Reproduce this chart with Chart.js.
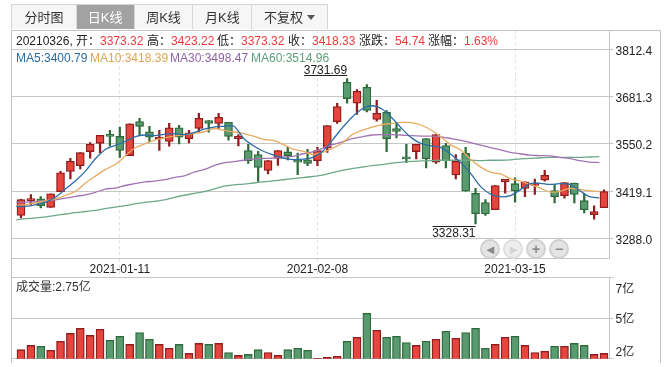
<!DOCTYPE html>
<html>
<head>
<meta charset="utf-8">
<script src="https://cdn.jsdelivr.net/npm/chart.js@4/dist/chart.umd.min.js"></script>
<style>
html, body { margin: 0; padding: 0; background: #fff; }
body { width: 666px; height: 367px; position: relative; overflow: hidden; font: 12px "Liberation Sans", "Noto Sans CJK SC", sans-serif; color: #222; }
canvas { position: absolute; left: 0; }
#priceChart { top: 0; }
#volumeChart { top: 277px; }
#frame { position: absolute; left: 11px; top: 30px; width: 648px; height: 332px; border: 1px solid #c4c4c4; border-bottom: 0; }
.tabs { position: absolute; left: 11px; top: 4px; height: 25px; width: 317px; display: flex; border: 1px solid #d4d4d4; border-bottom: 0; box-sizing: border-box; background: #f6f6f6; }
.tabs div { text-align: center; line-height: 26px; font-size: 13px; border-right: 1px solid #d8d8d8; box-sizing: border-box; color: #333; }
.tabs .on { background: #a2a2a2; color: #fff; }
.caret { display: inline-block; border: 4px solid transparent; border-top: 5px solid #555; border-bottom: 0; margin-left: 4px; vertical-align: 2px; }
.t { position: absolute; white-space: nowrap; line-height: 14px; }
.red { color: #ee3b3b; }
.nav { position: absolute; top: 239px; width: 16px; height: 16px; border-radius: 50%; background: #e4e4e4; border: 2px solid #d0d0d0; color: #8a8a8a; text-align: center; line-height: 16px; font-size: 14px; font-weight: bold; }
.nav.off { color: #d4d4d4; background: #eeeeee; border-color: #dedede; }
</style>
</head>
<body>
<canvas id="priceChart" width="666" height="278"></canvas>
<canvas id="volumeChart" width="666" height="90"></canvas>
<div id="frame"></div>

<div class="tabs">
  <div style="width:65px">分时图</div>
  <div class="on" style="width:58px">日K线</div>
  <div style="width:59px">周K线</div>
  <div style="width:59px">月K线</div>
  <div style="width:75px;border-right:0">不复权<span class="caret"></span></div>
</div>

<div class="t" style="left:16px;top:34px">20210326, 开：</div>
<div class="t red" style="left:100px;top:34px">3373.32</div>
<div class="t" style="left:147px;top:34px">高：</div>
<div class="t red" style="left:171px;top:34px">3423.22</div>
<div class="t" style="left:217px;top:34px">低：</div>
<div class="t red" style="left:241px;top:34px">3373.32</div>
<div class="t" style="left:288px;top:34px">收：</div>
<div class="t red" style="left:312px;top:34px">3418.33</div>
<div class="t" style="left:359px;top:34px">涨跌：</div>
<div class="t red" style="left:395px;top:34px">54.74</div>
<div class="t" style="left:428px;top:34px">涨幅：</div>
<div class="t red" style="left:464px;top:34px">1.63%</div>

<div class="t" style="left:16px;top:51px;color:#2b6a9e">MA5:3400.79</div>
<div class="t" style="left:90px;top:51px;color:#e0a352">MA10:3418.39</div>
<div class="t" style="left:170px;top:51px;color:#8f62a8">MA30:3498.47</div>
<div class="t" style="left:251px;top:51px;color:#5b9f7c">MA60:3514.96</div>

<div class="t" style="left:16px;top:280px;color:#333">成交量:2.75亿</div>

<div class="nav" style="left:480px">◂</div>
<div class="nav off" style="left:503px">▸</div>
<div class="nav" style="left:526px">+</div>
<div class="nav" style="left:549px">−</div>

<script>
// trading days shown in the window
const dates = [
    "2020-12-25", "2020-12-28", "2020-12-29", "2020-12-30", "2020-12-31",
    "2021-01-04", "2021-01-05", "2021-01-06", "2021-01-07", "2021-01-08",
    "2021-01-11", "2021-01-12", "2021-01-13", "2021-01-14", "2021-01-15",
    "2021-01-18", "2021-01-19", "2021-01-20", "2021-01-21", "2021-01-22",
    "2021-01-25", "2021-01-26", "2021-01-27", "2021-01-28", "2021-01-29",
    "2021-02-01", "2021-02-02", "2021-02-03", "2021-02-04", "2021-02-05",
    "2021-02-08", "2021-02-09", "2021-02-10", "2021-02-18", "2021-02-19",
    "2021-02-22", "2021-02-23", "2021-02-24", "2021-02-25", "2021-02-26",
    "2021-03-01", "2021-03-02", "2021-03-03", "2021-03-04", "2021-03-05",
    "2021-03-08", "2021-03-09", "2021-03-10", "2021-03-11", "2021-03-12",
    "2021-03-15", "2021-03-16", "2021-03-17", "2021-03-18", "2021-03-19",
    "2021-03-22", "2021-03-23", "2021-03-24", "2021-03-25", "2021-03-26"
];

const opens = [
    3352, 3393, 3398, 3374, 3418, 3474, 3490, 3529, 3552, 3577,
    3571, 3518, 3612, 3584, 3564, 3557, 3595, 3565, 3593, 3615,
    3607, 3610, 3565, 3532, 3521, 3477, 3510, 3528, 3502, 3506,
    3504, 3539, 3612, 3721, 3663, 3707, 3618, 3638, 3593, 3513,
    3529, 3565, 3500, 3546, 3464, 3524, 3413, 3388, 3368, 3445,
    3440, 3427, 3435, 3450, 3421, 3407, 3442, 3393, 3354, 3373.32
];
const closes = [
    3396, 3396, 3379, 3412, 3470, 3502, 3526, 3549, 3574, 3571,
    3532, 3606, 3599, 3569, 3566, 3595, 3569, 3581, 3621, 3607,
    3624, 3571, 3571, 3504, 3485, 3504, 3532, 3518, 3500, 3496,
    3532, 3601, 3654, 3676, 3696, 3643, 3635, 3565, 3585, 3509,
    3549, 3509, 3576, 3503, 3502, 3419, 3357, 3356, 3435, 3452,
    3420, 3445, 3442, 3463, 3404, 3443, 3410, 3368, 3363, 3418.33
];
const highs = [
    3397, 3410, 3404, 3412, 3474, 3510, 3526, 3554, 3574, 3588,
    3597, 3606, 3621, 3599, 3588, 3607, 3602, 3588, 3635, 3615,
    3635, 3610, 3576, 3549, 3530, 3504, 3532, 3541, 3525, 3535,
    3541, 3601, 3663, 3731.69, 3701, 3715, 3671, 3643, 3609, 3549,
    3549, 3565, 3576, 3552, 3521, 3541, 3427, 3396, 3435, 3452,
    3456, 3445, 3453, 3477, 3438, 3443, 3442, 3412, 3379, 3423.22
];
const lows = [
    3345, 3382, 3373, 3374, 3418, 3453, 3481, 3511, 3525, 3544,
    3513, 3518, 3576, 3556, 3532, 3544, 3550, 3553, 3584, 3583,
    3593, 3561, 3545, 3496, 3446, 3467, 3491, 3506, 3465, 3490,
    3490, 3527, 3607, 3663, 3632, 3639, 3613, 3529, 3567, 3498,
    3509, 3484, 3496, 3484, 3453, 3419, 3328.31, 3352, 3368, 3414,
    3389, 3404, 3410, 3447, 3387, 3400, 3387, 3359, 3342, 3373.32
];

const ma5 = [
    3377, 3377, 3382, 3389, 3403, 3426, 3448, 3475, 3509, 3535,
    3546, 3557, 3570, 3575, 3573, 3577, 3579, 3576, 3582, 3591,
    3597, 3599, 3600, 3566, 3545, 3530, 3520, 3511, 3507, 3508,
    3513, 3530, 3561, 3595, 3625, 3647, 3656, 3647, 3623, 3593,
    3567, 3551, 3545, 3540, 3521, 3498, 3468, 3432, 3411, 3404,
    3407, 3423, 3440, 3441, 3438, 3440, 3438, 3421, 3404, 3400.79
];
const ma10 = [
    3380, 3382, 3387, 3393, 3398, 3408, 3419, 3442, 3461, 3479,
    3493, 3516, 3539, 3550, 3561, 3567, 3572, 3576, 3579, 3584,
    3593, 3588, 3584, 3579, 3572, 3563, 3560, 3549, 3536, 3530,
    3521, 3527, 3538, 3553, 3576, 3588, 3597, 3604, 3607, 3610,
    3609, 3602, 3588, 3569, 3547, 3533, 3507, 3486, 3472, 3467,
    3454, 3447, 3438, 3428, 3417, 3419, 3427, 3424, 3421, 3418.39
];
const ma30 = [
    3388, 3389, 3390, 3393, 3395, 3400, 3405, 3409, 3416, 3425,
    3428, 3435, 3440, 3445, 3447, 3451, 3457, 3462, 3472, 3479,
    3490, 3498, 3501, 3505, 3508, 3510, 3511, 3514, 3516, 3523,
    3528, 3538, 3548, 3556, 3565, 3570, 3575, 3576, 3576, 3575,
    3573, 3572, 3572, 3570, 3565, 3560, 3554, 3547, 3540, 3534,
    3527, 3523, 3519, 3518, 3517, 3513, 3510, 3504, 3500, 3498.47
];
const ma60 = [
    3340, 3343, 3345, 3348, 3352, 3356, 3360, 3363, 3366, 3371,
    3375, 3379, 3384, 3388, 3391, 3395, 3402, 3408, 3413, 3418,
    3425, 3433, 3437, 3439, 3442, 3445, 3448, 3451, 3454, 3457,
    3460, 3464, 3471, 3477, 3482, 3486, 3490, 3493, 3497, 3500,
    3502, 3503, 3504, 3505, 3505, 3505, 3505, 3504, 3505, 3505,
    3506, 3509, 3510, 3512, 3513, 3513, 3513, 3513, 3514, 3514.96
];

// 亿
const volumes = [
    2.98, 3.24, 3.18, 2.94, 3.49, 3.97, 4.28, 3.85, 4.22, 3.55,
    3.79, 3.30, 4.03, 3.61, 3.30, 3.06, 3.30, 2.75, 3.36, 3.30,
    3.36, 2.81, 2.63, 2.69, 2.98, 2.81, 2.63, 2.98, 3.06, 2.94,
    2.46, 2.51, 2.57, 3.49, 3.73, 5.19, 4.16, 3.73, 3.79, 3.42,
    3.24, 3.49, 3.61, 4.10, 3.67, 4.03, 4.28, 3.06, 3.30, 3.73,
    3.79, 3.24, 2.81, 2.88, 3.18, 3.18, 3.36, 3.24, 2.69, 2.75
];

const priceTicks = [3288.0, 3419.1, 3550.2, 3681.3, 3812.4];
const dateTicks = ["2021-01-11", "2021-02-08", "2021-03-15"];
const volGridTicks = [2.43, 4.9, 7.37];
const volLabelTicks = [2.9, 4.9, 6.74];
const volLabels = ["2亿", "5亿", "7亿"];

const RED = '#e5453c', RED_DARK = '#8f1d1d';
const GREEN = '#5a9a70', GREEN_DARK = '#2f6b3a';
const GRID = '#c6c6c6';
const FONT = { family: '"Liberation Sans", "Noto Sans CJK SC", sans-serif', size: 12 };

const xMin = -0.961, xMax = 59.557;
const maShift = -0.476; // the averages sit on the left edge of each candle

const isUp = dates.map((d, i) => closes[i] >= opens[i]);
const upColor = isUp.map(u => u ? RED : GREEN);
const edgeColor = isUp.map(u => u ? RED_DARK : GREEN_DARK);

function maDataset(values, color) {
    return {
        type: 'line',
        data: values.map((v, i) => ({ x: i + maShift, y: v })),
        borderColor: color,
        borderWidth: 1.3,
        pointRadius: 0,
        tension: 0.3,
        order: 0
    };
}

// marks the highest and lowest price of the window, like the original
const extremesPlugin = {
    id: 'extremes',
    afterDatasetsDraw(chart) {
        const { ctx, scales } = chart;
        const hi = highs.indexOf(Math.max(...highs));
        const lo = lows.indexOf(Math.min(...lows));
        ctx.save();
        ctx.font = '12px "Liberation Sans"';
        ctx.fillStyle = '#222';
        ctx.strokeStyle = '#222';
        ctx.lineWidth = 1;
        ctx.textAlign = 'right';

        let x = scales.x.getPixelForValue(hi);
        let y = Math.round(scales.y.getPixelForValue(highs[hi]) - 3) + 0.5;
        ctx.beginPath(); ctx.moveTo(x - 43, y); ctx.lineTo(x, y); ctx.stroke();
        ctx.textBaseline = 'bottom';
        ctx.fillText(highs[hi].toFixed(2), x, y + 1);

        x = scales.x.getPixelForValue(lo);
        y = Math.round(scales.y.getPixelForValue(lows[lo]) + 2) + 0.5;
        ctx.beginPath(); ctx.moveTo(x - 43, y); ctx.lineTo(x, y); ctx.stroke();
        ctx.textBaseline = 'top';
        ctx.fillText(lows[lo].toFixed(2), x, y + 1);
        ctx.restore();
    }
};

new Chart(document.getElementById('priceChart').getContext('2d'), {
    type: 'bar',
    plugins: [extremesPlugin],
    data: {
        datasets: [
            maDataset(ma5, '#2e6da4'),
            maDataset(ma10, '#e8aa5e'),
            maDataset(ma30, '#a374b4'),
            maDataset(ma60, '#6ea888'),
            {
                // candle bodies
                data: opens.map((o, i) => ({ x: i, y: [o, closes[i]] })),
                backgroundColor: upColor,
                borderColor: edgeColor,
                borderWidth: 1.3,
                borderSkipped: false,
                barThickness: 8,
                grouped: false,
                minBarLength: 2,
                order: 1
            },
            {
                // wicks
                data: lows.map((l, i) => ({ x: i, y: [l, highs[i]] })),
                backgroundColor: edgeColor,
                barThickness: 1.6,
                grouped: false,
                order: 2
            }
        ]
    },
    options: {
        responsive: false,
        animation: false,
        layout: { padding: { left: 11.5, top: 30.3, right: 0, bottom: 0 } },
        plugins: { legend: { display: false }, tooltip: { enabled: false } },
        scales: {
            x: {
                type: 'linear',
                offset: false,
                min: xMin,
                max: xMax,
                afterBuildTicks: s => { s.ticks = dateTicks.map(d => ({ value: dates.indexOf(d) })); },
                afterFit: s => { s.height = 19.4; },
                grid: { offset: false, color: '#e0e0e0', tickColor: '#e0e0e0', tickLength: 19, tickBorderDash: [3, 3] },
                border: { color: GRID, dash: [3, 3] },
                ticks: {
                    color: '#222',
                    font: FONT,
                    padding: -15,
                    maxRotation: 0,
                    autoSkip: false,
                    callback: v => dates[v]
                }
            },
            y: {
                position: 'right',
                min: 3232.4,
                max: 3865.2,
                afterBuildTicks: s => { s.ticks = priceTicks.map(v => ({ value: v })); },
                afterFit: s => { s.width = 56.5; },
                grid: { color: GRID, tickColor: GRID, tickLength: 4 },
                border: { color: GRID },
                ticks: { color: '#222', font: FONT, padding: 2, labelOffset: 2, callback: v => v.toFixed(1) }
            }
        }
    }
});

new Chart(document.getElementById('volumeChart').getContext('2d'), {
    type: 'bar',
    data: {
        datasets: [{
            data: volumes.map((v, i) => ({ x: i, y: v })),
            backgroundColor: upColor,
            borderColor: edgeColor,
            borderWidth: 1.3,
            borderSkipped: false,
            barThickness: 8
        }]
    },
    options: {
        responsive: false,
        animation: false,
        layout: { padding: { left: 11.5, top: 0.7, right: 0, bottom: 8.3 } },
        plugins: { legend: { display: false }, tooltip: { enabled: false } },
        scales: {
            x: { type: 'linear', display: false, offset: false, grid: { offset: false }, min: xMin, max: xMax },
            y: {
                position: 'right',
                min: 2.43,
                max: 7.37,
                afterBuildTicks: s => {
                    const all = [...new Set([...volGridTicks, ...volLabelTicks])];
                    s.ticks = all.sort((a, b) => a - b).map(v => ({ value: v }));
                },
                afterFit: s => {
                    s.width = 56.5;
                    s.paddingTop = 0;
                    s.paddingBottom = 0;
                },
                grid: {
                    color: c => volGridTicks.includes(c.tick.value) ? GRID : 'transparent',
                    tickColor: c => volGridTicks.includes(c.tick.value) ? GRID : 'transparent',
                    tickLength: 4
                },
                border: { color: GRID },
                ticks: {
                    color: '#222',
                    font: FONT,
                    padding: 2,
                    labelOffset: 1.5,
                    autoSkip: false,
                    callback: v => {
                        const k = volLabelTicks.indexOf(v);
                        return k >= 0 ? volLabels[k] : '';
                    }
                }
            }
        }
    }
});
</script>
</body>
</html>
